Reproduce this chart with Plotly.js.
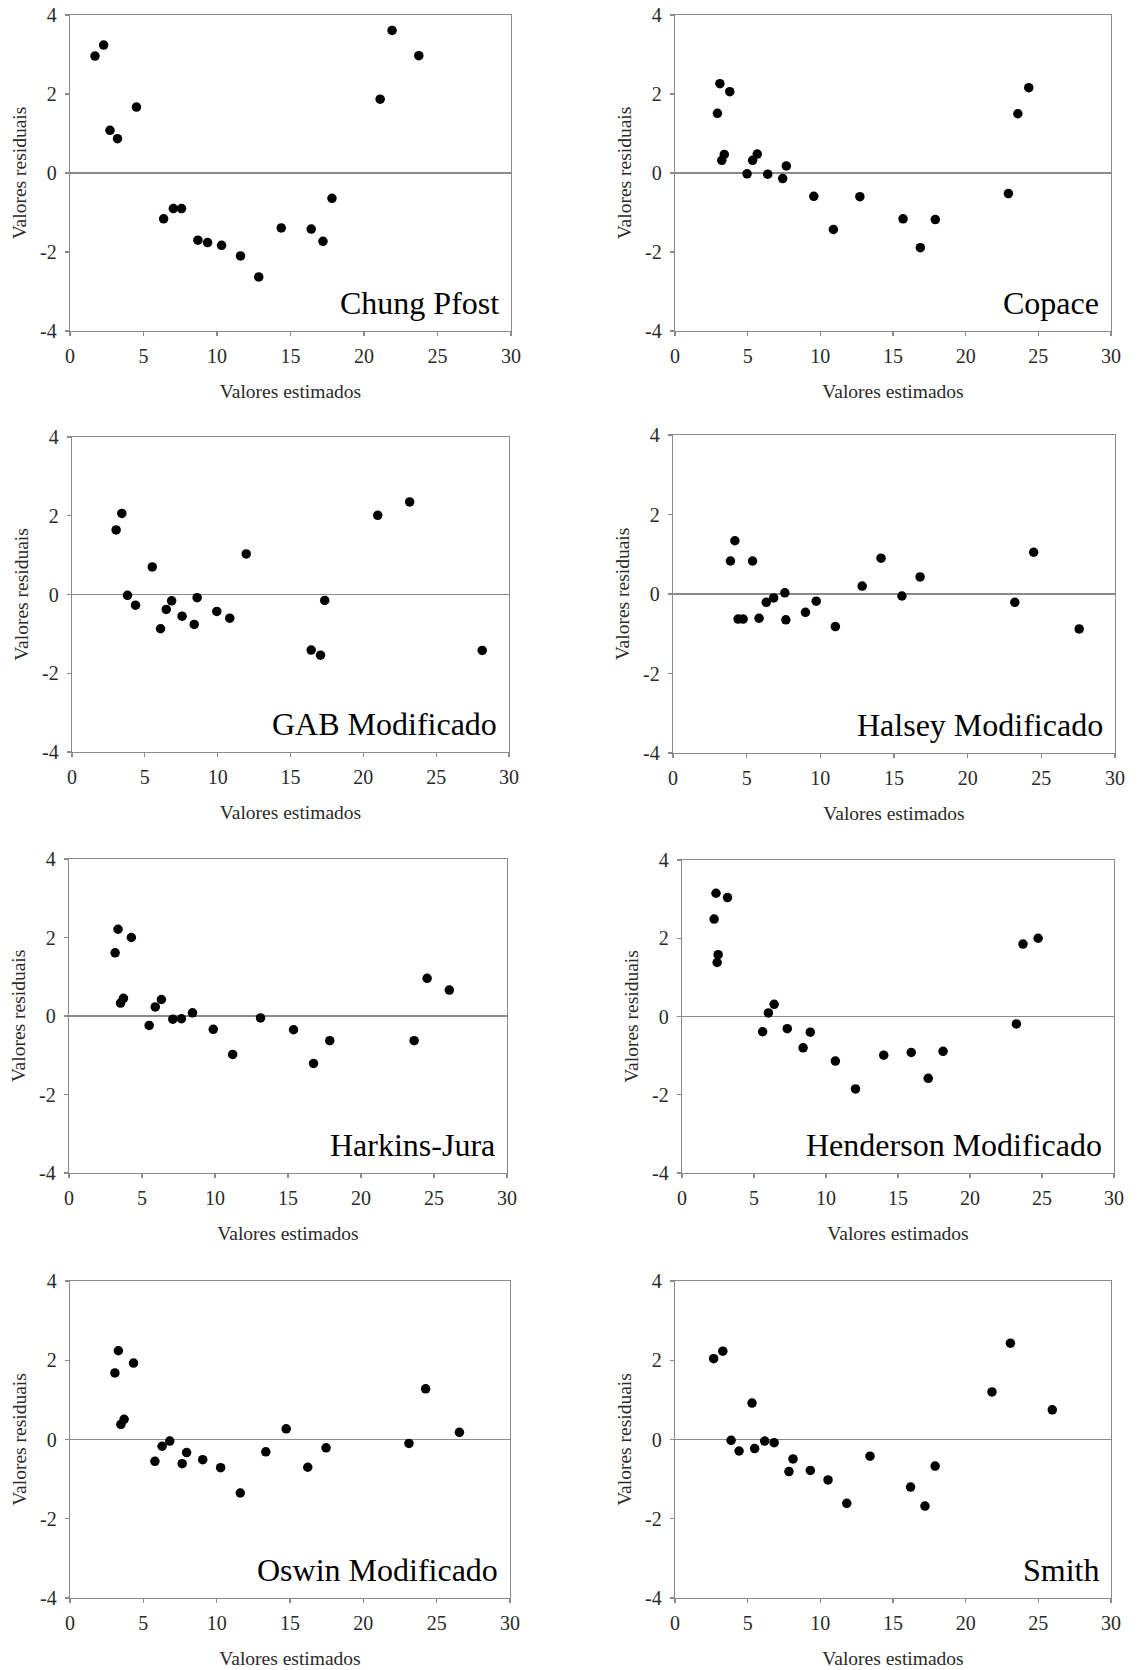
<!DOCTYPE html>
<html><head><meta charset="utf-8">
<script src="https://cdn.plot.ly/plotly-3.0.1.min.js"></script>
<style>html,body{margin:0;padding:0;background:#fff;} #chart{width:1139px;height:1670px;}</style>
</head><body><div id="chart"></div>
<script>
// ---- Data ----
const modelNames = ["Chung Pfost","Copace","GAB Modificado","Halsey Modificado","Harkins-Jura","Henderson Modificado","Oswin Modificado","Smith"];

const chungX = [1.70,2.29,2.72,3.23,4.52,6.37,7.03,7.59,8.70,9.36,10.31,11.60,12.84,14.37,16.41,17.21,17.82,21.10,21.91,23.73];
const chungY = [2.96,3.24,1.08,0.87,1.67,-1.16,-0.90,-0.90,-1.70,-1.76,-1.83,-2.10,-2.63,-1.39,-1.42,-1.73,-0.64,1.87,3.61,2.97];

const copaceX = [2.92,3.09,3.77,3.22,3.39,4.96,5.34,5.66,6.38,7.41,7.66,9.55,10.90,12.72,15.69,16.88,17.91,22.94,23.59,24.34];
const copaceY = [1.51,2.26,2.06,0.32,0.47,-0.02,0.32,0.48,-0.03,-0.14,0.18,-0.59,-1.43,-0.60,-1.16,-1.89,-1.18,-0.52,1.50,2.16];

const gabX = [3.03,3.42,3.81,4.36,5.51,6.08,6.47,6.84,7.56,8.39,8.59,9.94,10.83,11.96,16.42,17.06,17.35,20.99,23.18,28.16];
const gabY = [1.64,2.06,-0.02,-0.27,0.70,-0.87,-0.38,-0.16,-0.55,-0.76,-0.08,-0.43,-0.60,1.03,-1.41,-1.54,-0.15,2.01,2.35,-1.42];

const halseyX = [3.90,4.20,5.40,4.42,4.76,5.84,6.33,6.83,7.59,7.66,8.99,9.72,11.02,12.84,14.12,15.54,16.77,23.20,24.48,27.57];
const halseyY = [0.83,1.34,0.83,-0.63,-0.63,-0.61,-0.21,-0.10,0.03,-0.65,-0.46,-0.18,-0.82,0.20,0.90,-0.05,0.43,-0.21,1.05,-0.88];

const harkinsX = [3.16,3.36,4.27,3.53,3.73,5.49,5.91,6.33,7.11,7.70,8.46,9.88,11.21,13.12,15.38,16.75,17.86,23.64,24.53,26.05];
const harkinsY = [1.61,2.21,2.00,0.33,0.45,-0.24,0.23,0.42,-0.08,-0.07,0.08,-0.34,-0.98,-0.05,-0.35,-1.21,-0.63,-0.63,0.96,0.66];

const hendersonX = [2.36,3.16,2.23,2.51,2.44,5.60,6.00,6.40,7.31,8.41,8.91,10.65,12.05,14.01,15.92,17.10,18.13,23.22,23.68,24.73];
const hendersonY = [3.15,3.04,2.49,1.58,1.38,-0.39,0.09,0.31,-0.31,-0.80,-0.40,-1.14,-1.85,-0.99,-0.92,-1.58,-0.89,-0.19,1.85,2.00];

const oswinX = [3.06,3.30,4.33,3.47,3.69,5.79,6.28,6.80,7.65,7.95,9.05,10.27,11.61,13.35,14.74,16.21,17.46,23.11,24.25,26.55];
const oswinY = [1.68,2.24,1.93,0.38,0.51,-0.55,-0.17,-0.04,-0.61,-0.33,-0.51,-0.71,-1.35,-0.31,0.27,-0.70,-0.21,-0.10,1.28,0.18];

const smithX = [2.66,3.29,3.86,4.41,5.30,5.48,6.17,6.82,7.84,8.12,9.31,10.53,11.82,13.42,16.21,17.20,17.90,21.81,23.08,25.96];
const smithY = [2.04,2.23,-0.02,-0.29,0.92,-0.23,-0.04,-0.08,-0.81,-0.49,-0.78,-1.02,-1.61,-0.42,-1.20,-1.68,-0.67,1.20,2.43,0.75];

const xTickVals = [0,5,10,15,20,25,30];
const xTickText = ["0","5","10","15","20","25","30"];
const yTickVals = [-4,-2,0,2,4];
const yTickText = ["-4","-2","0","2","4"];
const xTitle = "Valores estimados";
const yTitle = "Valores residuais";

// ---- Layout ----
const W = 1139, H = 1670;
const seriesX = [chungX, copaceX, gabX, halseyX, harkinsX, hendersonX, oswinX, smithX];
const seriesY = [chungY, copaceY, gabY, halseyY, harkinsY, hendersonY, oswinY, smithY];
// plot boxes in pixels: [left, right, top, bottom]
const boxes = [
  [70,511,15,331],[675,1111,15,331],
  [72,509,437,752],[673,1115,435,753],
  [69,507,859,1173],[682,1114,860,1173],
  [70,510,1281,1598],[675,1111,1281,1598]
];
const serif = "Liberation Serif, Times New Roman, serif";
const axisGray = "#8a8a8a";
const textCol = "#2a2a2a";

const traces = [];
const layout = {
  width: W, height: H,
  margin: {l:0, r:0, t:0, b:0},
  paper_bgcolor: "#fff", plot_bgcolor: "#fff",
  showlegend: false,
  font: {family: serif, color: textCol},
  annotations: []
};

for (let i = 0; i < 8; i++) {
  const n = i === 0 ? "" : String(i + 1);
  const b = boxes[i];
  traces.push({
    type: "scatter", mode: "markers",
    x: seriesX[i], y: seriesY[i],
    xaxis: "x" + n, yaxis: "y" + n,
    marker: {color: "#000", size: 9.5},
    hoverinfo: "x+y"
  });
  layout["xaxis" + n] = {
    domain: [b[0] / W, b[1] / W],
    anchor: "y" + n,
    range: [0, 30], tickvals: xTickVals, ticktext: xTickText,
    showgrid: false, zeroline: false,
    showline: true, mirror: true, linecolor: axisGray, linewidth: 1.3,
    ticks: "outside", ticklen: 4, tickcolor: axisGray, tickwidth: 1.3,
    ticklabelstandoff: 3,
    tickfont: {family: serif, size: 20, color: textCol},
    title: {text: xTitle, font: {family: serif, size: 19.5, color: textCol}, standoff: 18},
    automargin: false, fixedrange: true
  };
  layout["yaxis" + n] = {
    domain: [1 - b[3] / H, 1 - b[2] / H],
    anchor: "x" + n,
    range: [-4, 4], tickvals: yTickVals, ticktext: yTickText,
    showgrid: false,
    zeroline: true, zerolinecolor: axisGray, zerolinewidth: 1.3,
    showline: true, mirror: true, linecolor: axisGray, linewidth: 1.3,
    ticks: "outside", ticklen: 4, tickcolor: axisGray, tickwidth: 1.3,
    ticklabelstandoff: 4,
    tickfont: {family: serif, size: 20, color: textCol},
    title: {text: yTitle, font: {family: serif, size: 19.5, color: textCol}, standoff: 8},
    automargin: false, fixedrange: true
  };
  layout.annotations.push({
    text: modelNames[i],
    xref: "x" + n + " domain", yref: "y" + n + " domain",
    x: 1, y: 0, xanchor: "right", yanchor: "bottom",
    xshift: -10, yshift: 8,
    showarrow: false,
    font: {family: serif, size: 32, color: "#000"}
  });
}

Plotly.newPlot("chart", traces, layout, {displayModeBar: false, staticPlot: true});
</script>
</body></html>
